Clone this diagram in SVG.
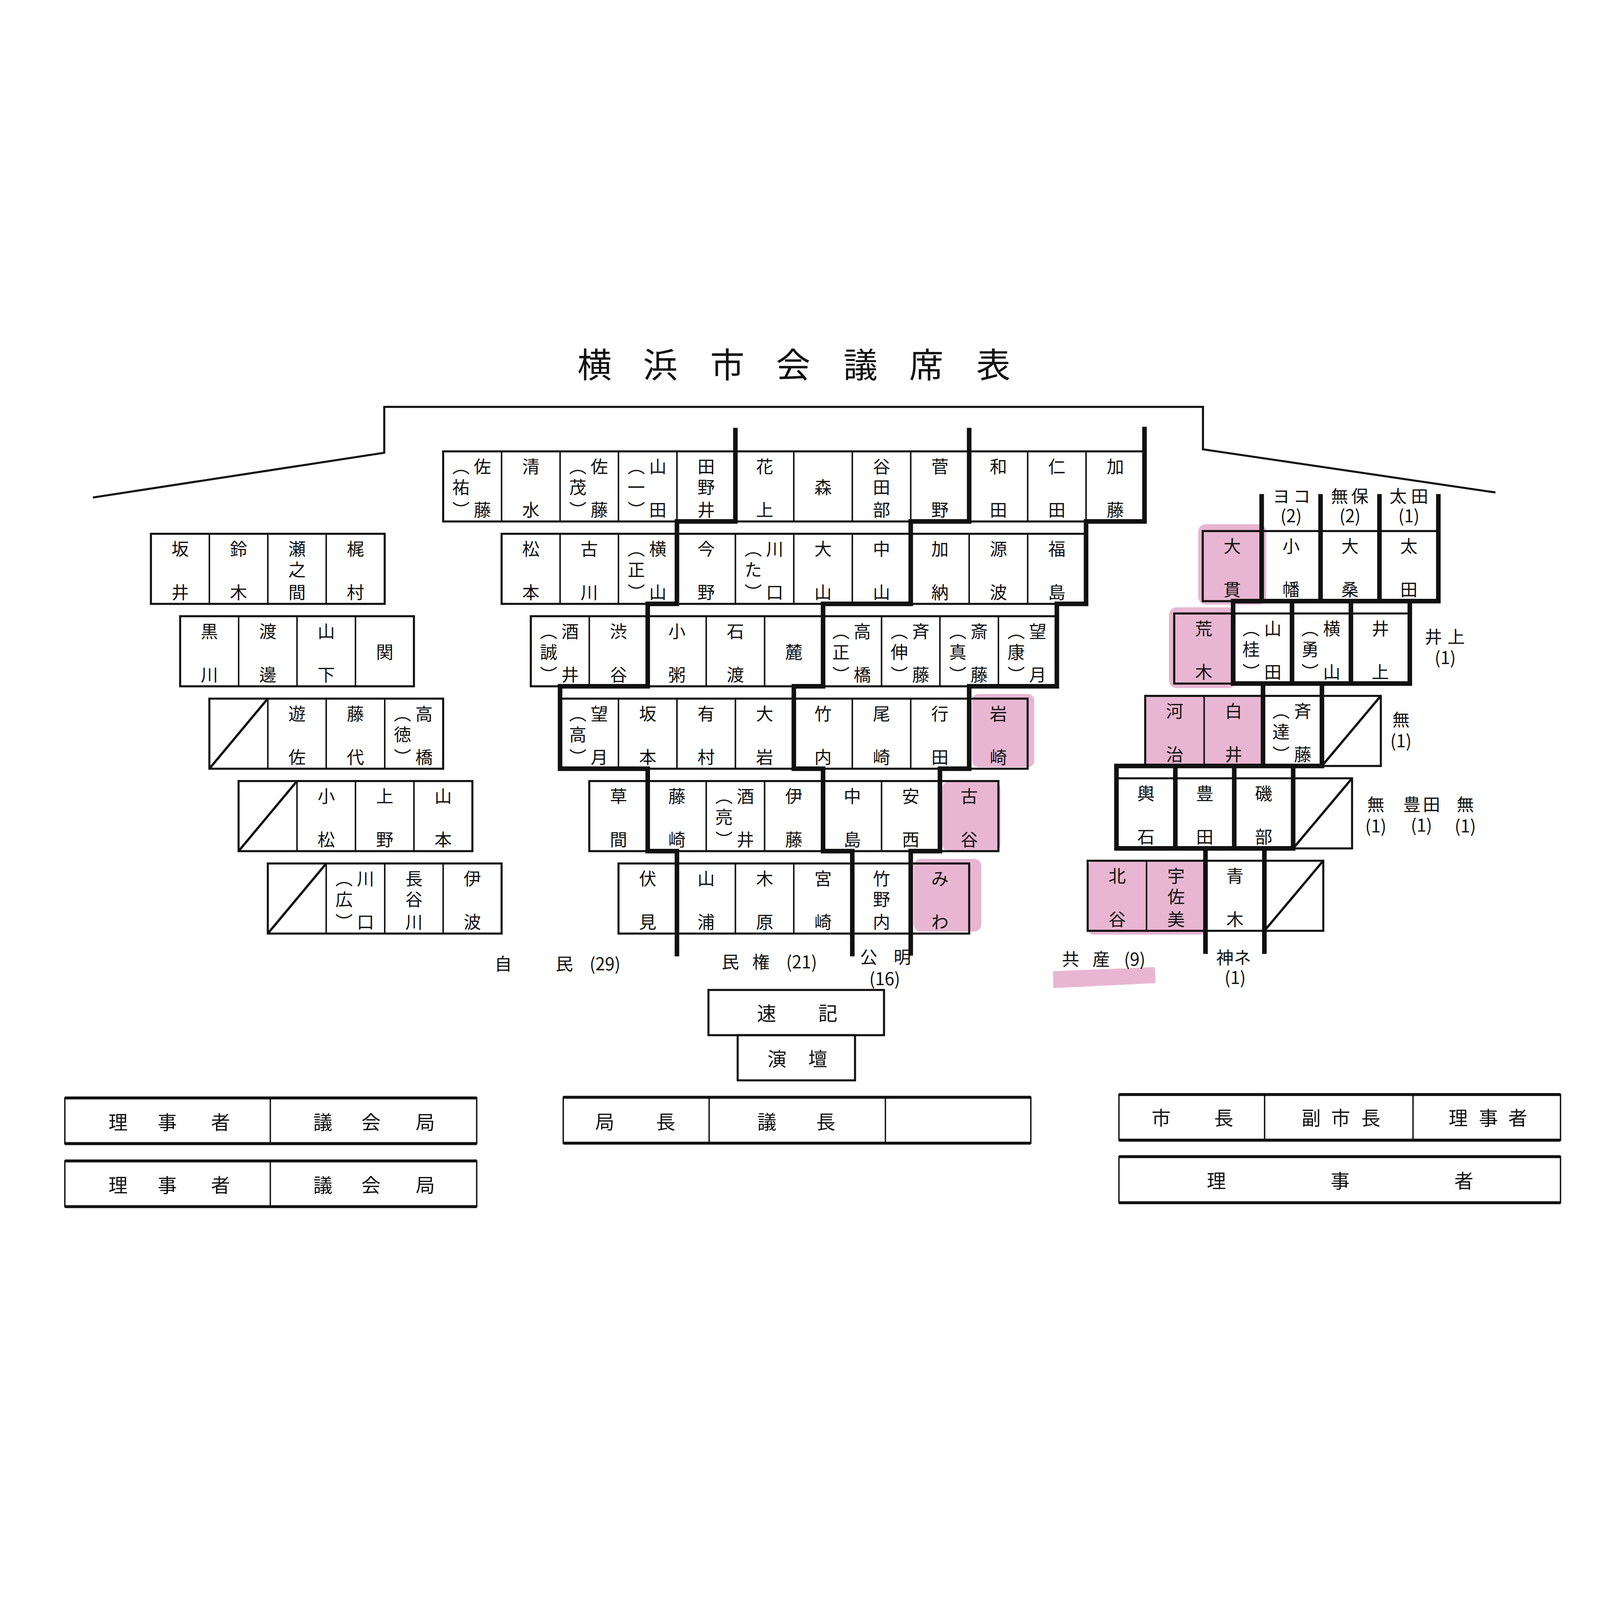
<svg xmlns="http://www.w3.org/2000/svg" width="7008" height="5100" viewBox="0 0 7008 5100">
<style>
svg{width:100vw;height:100vh}
.bg{fill:#ffffff}
.c{fill:none;stroke:#111;stroke-width:6}
.o{fill:none;stroke:#111;stroke-width:9}
.k{fill:none;stroke:#111;stroke-width:20;stroke-linecap:square;stroke-linejoin:miter}
.fr{fill:none;stroke:#111;stroke-width:9;stroke-linejoin:miter}
.sl{stroke:#111;stroke-width:10}
.p{fill:#E8B6D2}
.tb{stroke:#111;stroke-width:13}
.t{font-family:"Noto Sans CJK JP","Noto Sans CJK SC",sans-serif;font-size:76px;fill:#111;text-anchor:middle;dominant-baseline:central}
.bt{font-family:"Noto Sans CJK JP","Noto Sans CJK SC",sans-serif;font-size:84px;fill:#111;text-anchor:middle;dominant-baseline:central}
.ti{font-family:"Noto Sans CJK JP","Noto Sans CJK SC",sans-serif;font-size:150px;fill:#111;text-anchor:middle;dominant-baseline:central}
</style>
<rect class="bg" x="0" y="0" width="7008" height="5100"/>

<g id="title"><text class="ti" x="2604 2892 3186 3474 3769 4057 4351" y="633">横浜市会議席表</text></g>

<g id="frame"><polyline class="fr" points="407,1225 1683,1029 1683,828 5269,828 5269,1014 6550,1203"/></g>

<g id="highlights">
<rect class="p" x="4258" y="2086" width="272" height="320" rx="28"/>
<rect class="p" x="4128" y="2470" width="254" height="304" rx="28"/>
<rect class="p" x="4002" y="2808" width="296" height="318" rx="30"/>
<rect class="p" x="5248" y="1342" width="298" height="352" rx="34"/>
<rect class="p" x="5120" y="1706" width="294" height="354" rx="34"/>
<rect class="p" x="5018" y="2092" width="516" height="310" rx="24"/>
<rect class="p" x="4766" y="2818" width="512" height="322" rx="24"/>
<polygon class="p" points="4612,3300 5058,3282 5062,3352 4614,3374"/>
</g>

<g id="seats-center">
<g id="s0-0"><rect class="c" x="1941" y="1023" width="256" height="307"/><text class="t" x="2113 2113 2019 2019 2019" y="1085 1275 1085 1176 1275">佐藤︵祐︶</text></g>
<g id="s0-1"><rect class="c" x="2197" y="1023" width="256" height="307"/><text class="t" x="2325 2325" y="1085 1275">清水</text></g>
<g id="s0-2"><rect class="c" x="2453" y="1023" width="256" height="307"/><text class="t" x="2625 2625 2531 2531 2531" y="1085 1275 1085 1176 1275">佐藤︵茂︶</text></g>
<g id="s0-3"><rect class="c" x="2709" y="1023" width="256" height="307"/><text class="t" x="2881 2881 2787 2787 2787" y="1085 1275 1085 1176 1275">山田︵一︶</text></g>
<g id="s0-4"><rect class="c" x="2965" y="1023" width="256" height="307"/><text class="t" x="3093 3093 3093" y="1085 1176 1275">田野井</text></g>
<g id="s0-5"><rect class="c" x="3221" y="1023" width="256" height="307"/><text class="t" x="3349 3349" y="1085 1275">花上</text></g>
<g id="s0-6"><rect class="c" x="3477" y="1023" width="256" height="307"/><text class="t" x="3605" y="1176">森</text></g>
<g id="s0-7"><rect class="c" x="3733" y="1023" width="256" height="307"/><text class="t" x="3861 3861 3861" y="1085 1176 1275">谷田部</text></g>
<g id="s0-8"><rect class="c" x="3989" y="1023" width="256" height="307"/><text class="t" x="4117 4117" y="1085 1275">菅野</text></g>
<g id="s0-9"><rect class="c" x="4245" y="1023" width="256" height="307"/><text class="t" x="4373 4373" y="1085 1275">和田</text></g>
<g id="s0-10"><rect class="c" x="4501" y="1023" width="256" height="307"/><text class="t" x="4629 4629" y="1085 1275">仁田</text></g>
<g id="s0-11"><rect class="c" x="4757" y="1023" width="256" height="307"/><text class="t" x="4885 4885" y="1085 1275">加藤</text></g>

<g id="s1-0"><rect class="c" x="2197" y="1384" width="256" height="307"/><text class="t" x="2325 2325" y="1446 1636">松本</text></g>
<g id="s1-1"><rect class="c" x="2453" y="1384" width="256" height="307"/><text class="t" x="2581 2581" y="1446 1636">古川</text></g>
<g id="s1-2"><rect class="c" x="2709" y="1384" width="256" height="307"/><text class="t" x="2881 2881 2787 2787 2787" y="1446 1636 1446 1537 1636">横山︵正︶</text></g>
<g id="s1-3"><rect class="c" x="2965" y="1384" width="256" height="307"/><text class="t" x="3093 3093" y="1446 1636">今野</text></g>
<g id="s1-4"><rect class="c" x="3221" y="1384" width="256" height="307"/><text class="t" x="3393 3393 3299 3299 3299" y="1446 1636 1446 1537 1636">川口︵た︶</text></g>
<g id="s1-5"><rect class="c" x="3477" y="1384" width="256" height="307"/><text class="t" x="3605 3605" y="1446 1636">大山</text></g>
<g id="s1-6"><rect class="c" x="3733" y="1384" width="256" height="307"/><text class="t" x="3861 3861" y="1446 1636">中山</text></g>
<g id="s1-7"><rect class="c" x="3989" y="1384" width="256" height="307"/><text class="t" x="4117 4117" y="1446 1636">加納</text></g>
<g id="s1-8"><rect class="c" x="4245" y="1384" width="256" height="307"/><text class="t" x="4373 4373" y="1446 1636">源波</text></g>
<g id="s1-9"><rect class="c" x="4501" y="1384" width="256" height="307"/><text class="t" x="4629 4629" y="1446 1636">福島</text></g>

<g id="s2-0"><rect class="c" x="2325" y="1745" width="256" height="307"/><text class="t" x="2497 2497 2403 2403 2403" y="1807 1997 1807 1898 1997">酒井︵誠︶</text></g>
<g id="s2-1"><rect class="c" x="2581" y="1745" width="256" height="307"/><text class="t" x="2709 2709" y="1807 1997">渋谷</text></g>
<g id="s2-2"><rect class="c" x="2837" y="1745" width="256" height="307"/><text class="t" x="2965 2965" y="1807 1997">小粥</text></g>
<g id="s2-3"><rect class="c" x="3093" y="1745" width="256" height="307"/><text class="t" x="3221 3221" y="1807 1997">石渡</text></g>
<g id="s2-4"><rect class="c" x="3349" y="1745" width="256" height="307"/><text class="t" x="3477" y="1898">麓</text></g>
<g id="s2-5"><rect class="c" x="3605" y="1745" width="256" height="307"/><text class="t" x="3777 3777 3683 3683 3683" y="1807 1997 1807 1898 1997">高橋︵正︶</text></g>
<g id="s2-6"><rect class="c" x="3861" y="1745" width="256" height="307"/><text class="t" x="4033 4033 3939 3939 3939" y="1807 1997 1807 1898 1997">斉藤︵伸︶</text></g>
<g id="s2-7"><rect class="c" x="4117" y="1745" width="256" height="307"/><text class="t" x="4289 4289 4195 4195 4195" y="1807 1997 1807 1898 1997">斎藤︵真︶</text></g>
<g id="s2-8"><rect class="c" x="4373" y="1745" width="256" height="307"/><text class="t" x="4545 4545 4451 4451 4451" y="1807 1997 1807 1898 1997">望月︵康︶</text></g>

<g id="s3-0"><rect class="c" x="2453" y="2106" width="256" height="307"/><text class="t" x="2625 2625 2531 2531 2531" y="2168 2358 2168 2259 2358">望月︵高︶</text></g>
<g id="s3-1"><rect class="c" x="2709" y="2106" width="256" height="307"/><text class="t" x="2837 2837" y="2168 2358">坂本</text></g>
<g id="s3-2"><rect class="c" x="2965" y="2106" width="256" height="307"/><text class="t" x="3093 3093" y="2168 2358">有村</text></g>
<g id="s3-3"><rect class="c" x="3221" y="2106" width="256" height="307"/><text class="t" x="3349 3349" y="2168 2358">大岩</text></g>
<g id="s3-4"><rect class="c" x="3477" y="2106" width="256" height="307"/><text class="t" x="3605 3605" y="2168 2358">竹内</text></g>
<g id="s3-5"><rect class="c" x="3733" y="2106" width="256" height="307"/><text class="t" x="3861 3861" y="2168 2358">尾崎</text></g>
<g id="s3-6"><rect class="c" x="3989" y="2106" width="256" height="307"/><text class="t" x="4117 4117" y="2168 2358">行田</text></g>
<g id="s3-7"><rect class="c" x="4245" y="2106" width="256" height="307"/><text class="t" x="4373 4373" y="2168 2358">岩崎</text></g>

<g id="s4-0"><rect class="c" x="2581" y="2467" width="256" height="307"/><text class="t" x="2709 2709" y="2529 2719">草間</text></g>
<g id="s4-1"><rect class="c" x="2837" y="2467" width="256" height="307"/><text class="t" x="2965 2965" y="2529 2719">藤崎</text></g>
<g id="s4-2"><rect class="c" x="3093" y="2467" width="256" height="307"/><text class="t" x="3265 3265 3171 3171 3171" y="2529 2719 2529 2620 2719">酒井︵亮︶</text></g>
<g id="s4-3"><rect class="c" x="3349" y="2467" width="256" height="307"/><text class="t" x="3477 3477" y="2529 2719">伊藤</text></g>
<g id="s4-4"><rect class="c" x="3605" y="2467" width="256" height="307"/><text class="t" x="3733 3733" y="2529 2719">中島</text></g>
<g id="s4-5"><rect class="c" x="3861" y="2467" width="256" height="307"/><text class="t" x="3989 3989" y="2529 2719">安西</text></g>
<g id="s4-6"><rect class="c" x="4117" y="2467" width="256" height="307"/><text class="t" x="4245 4245" y="2529 2719">古谷</text></g>

<g id="s5-0"><rect class="c" x="2709" y="2828" width="256" height="307"/><text class="t" x="2837 2837" y="2890 3080">伏見</text></g>
<g id="s5-1"><rect class="c" x="2965" y="2828" width="256" height="307"/><text class="t" x="3093 3093" y="2890 3080">山浦</text></g>
<g id="s5-2"><rect class="c" x="3221" y="2828" width="256" height="307"/><text class="t" x="3349 3349" y="2890 3080">木原</text></g>
<g id="s5-3"><rect class="c" x="3477" y="2828" width="256" height="307"/><text class="t" x="3605 3605" y="2890 3080">宮崎</text></g>
<g id="s5-4"><rect class="c" x="3733" y="2828" width="256" height="307"/><text class="t" x="3861 3861 3861" y="2890 2981 3080">竹野内</text></g>
<g id="s5-5"><rect class="c" x="3989" y="2828" width="256" height="307"/><text class="t" x="4117 4117" y="2890 3080">みわ</text></g>
</g>

<g id="seats-left">
<g id="la-0"><rect class="c" x="661" y="1384" width="256" height="307"/><text class="t" x="789 789" y="1446 1636">坂井</text></g>
<g id="la-1"><rect class="c" x="917" y="1384" width="256" height="307"/><text class="t" x="1045 1045" y="1446 1636">鈴木</text></g>
<g id="la-2"><rect class="c" x="1173" y="1384" width="256" height="307"/><text class="t" x="1301 1301 1301" y="1446 1537 1636">瀬之間</text></g>
<g id="la-3"><rect class="c" x="1429" y="1384" width="256" height="307"/><text class="t" x="1557 1557" y="1446 1636">梶村</text></g>

<g id="lb-0"><rect class="c" x="789" y="1745" width="256" height="307"/><text class="t" x="917 917" y="1807 1997">黒川</text></g>
<g id="lb-1"><rect class="c" x="1045" y="1745" width="256" height="307"/><text class="t" x="1173 1173" y="1807 1997">渡邊</text></g>
<g id="lb-2"><rect class="c" x="1301" y="1745" width="256" height="307"/><text class="t" x="1429 1429" y="1807 1997">山下</text></g>
<g id="lb-3"><rect class="c" x="1557" y="1745" width="256" height="307"/><text class="t" x="1685" y="1898">関</text></g>

<g id="lc-0"><rect class="c" x="917" y="2106" width="256" height="307"/><line class="sl" x1="917" y1="2413" x2="1173" y2="2106"/></g>
<g id="lc-1"><rect class="c" x="1173" y="2106" width="256" height="307"/><text class="t" x="1301 1301" y="2168 2358">遊佐</text></g>
<g id="lc-2"><rect class="c" x="1429" y="2106" width="256" height="307"/><text class="t" x="1557 1557" y="2168 2358">藤代</text></g>
<g id="lc-3"><rect class="c" x="1685" y="2106" width="256" height="307"/><text class="t" x="1857 1857 1763 1763 1763" y="2168 2358 2168 2259 2358">高橋︵徳︶</text></g>

<g id="ld-0"><rect class="c" x="1045" y="2467" width="256" height="307"/><line class="sl" x1="1045" y1="2774" x2="1301" y2="2467"/></g>
<g id="ld-1"><rect class="c" x="1301" y="2467" width="256" height="307"/><text class="t" x="1429 1429" y="2529 2719">小松</text></g>
<g id="ld-2"><rect class="c" x="1557" y="2467" width="256" height="307"/><text class="t" x="1685 1685" y="2529 2719">上野</text></g>
<g id="ld-3"><rect class="c" x="1813" y="2467" width="256" height="307"/><text class="t" x="1941 1941" y="2529 2719">山本</text></g>

<g id="le-0"><rect class="c" x="1173" y="2828" width="256" height="307"/><line class="sl" x1="1173" y1="3135" x2="1429" y2="2828"/></g>
<g id="le-1"><rect class="c" x="1429" y="2828" width="256" height="307"/><text class="t" x="1601 1601 1507 1507 1507" y="2890 3080 2890 2981 3080">川口︵広︶</text></g>
<g id="le-2"><rect class="c" x="1685" y="2828" width="256" height="307"/><text class="t" x="1813 1813 1813" y="2890 2981 3080">長谷川</text></g>
<g id="le-3"><rect class="c" x="1941" y="2828" width="256" height="307"/><text class="t" x="2069 2069" y="2890 3080">伊波</text></g>
</g>

<g id="seats-right">
<g id="r1-0"><rect class="c" x="5268" y="1372" width="258" height="307"/><text class="t" x="5397 5397" y="1434 1624">大貫</text></g>
<g id="r1-1"><rect class="c" x="5526" y="1372" width="258" height="307"/><text class="t" x="5655 5655" y="1434 1624">小幡</text></g>
<g id="r1-2"><rect class="c" x="5784" y="1372" width="258" height="307"/><text class="t" x="5913 5913" y="1434 1624">大桑</text></g>
<g id="r1-3"><rect class="c" x="6042" y="1372" width="258" height="307"/><text class="t" x="6171 6171" y="1434 1624">太田</text></g>

<g id="r2-0"><rect class="c" x="5143" y="1733" width="258" height="307"/><text class="t" x="5272 5272" y="1795 1985">荒木</text></g>
<g id="r2-1"><rect class="c" x="5401" y="1733" width="258" height="307"/><text class="t" x="5575 5575 5480 5480 5480" y="1795 1985 1795 1886 1985">山田︵桂︶</text></g>
<g id="r2-2"><rect class="c" x="5659" y="1733" width="258" height="307"/><text class="t" x="5833 5833 5738 5738 5738" y="1795 1985 1795 1886 1985">横山︵勇︶</text></g>
<g id="r2-3"><rect class="c" x="5917" y="1733" width="258" height="307"/><text class="t" x="6046 6046" y="1795 1985">井上</text></g>

<g id="r3-0"><rect class="c" x="5016" y="2094" width="258" height="307"/><text class="t" x="5145 5145" y="2156 2346">河治</text></g>
<g id="r3-1"><rect class="c" x="5274" y="2094" width="258" height="307"/><text class="t" x="5403 5403" y="2156 2346">白井</text></g>
<g id="r3-2"><rect class="c" x="5532" y="2094" width="258" height="307"/><text class="t" x="5706 5706 5611 5611 5611" y="2156 2346 2156 2247 2346">斉藤︵達︶</text></g>
<g id="r3-3"><rect class="c" x="5790" y="2094" width="258" height="307"/><line class="sl" x1="5790" y1="2401" x2="6048" y2="2094"/></g>

<g id="r4-0"><rect class="c" x="4890" y="2455" width="258" height="307"/><text class="t" x="5019 5019" y="2517 2707">輿石</text></g>
<g id="r4-1"><rect class="c" x="5148" y="2455" width="258" height="307"/><text class="t" x="5277 5277" y="2517 2707">豊田</text></g>
<g id="r4-2"><rect class="c" x="5406" y="2455" width="258" height="307"/><text class="t" x="5535 5535" y="2517 2707">磯部</text></g>
<g id="r4-3"><rect class="c" x="5664" y="2455" width="258" height="307"/><line class="sl" x1="5664" y1="2762" x2="5922" y2="2455"/></g>

<g id="r5-0"><rect class="c" x="4764" y="2816" width="258" height="307"/><text class="t" x="4893 4893" y="2878 3068">北谷</text></g>
<g id="r5-1"><rect class="c" x="5022" y="2816" width="258" height="307"/><text class="t" x="5151 5151 5151" y="2878 2969 3068">宇佐美</text></g>
<g id="r5-2"><rect class="c" x="5280" y="2816" width="258" height="307"/><text class="t" x="5409 5409" y="2878 3068">青木</text></g>
<g id="r5-3"><rect class="c" x="5538" y="2816" width="258" height="307"/><line class="sl" x1="5538" y1="3123" x2="5796" y2="2816"/></g>
</g>

<g id="rows">
<rect class="o" x="1941" y="1023" width="3072" height="307"/>
<rect class="o" x="2197" y="1384" width="2560" height="307"/>
<rect class="o" x="2325" y="1745" width="2304" height="307"/>
<rect class="o" x="2453" y="2106" width="2048" height="307"/>
<rect class="o" x="2581" y="2467" width="1792" height="307"/>
<rect class="o" x="2709" y="2828" width="1536" height="307"/>
<rect class="o" x="661" y="1384" width="1024" height="307"/>
<rect class="o" x="789" y="1745" width="1024" height="307"/>
<rect class="o" x="917" y="2106" width="1024" height="307"/>
<rect class="o" x="1045" y="2467" width="1024" height="307"/>
<rect class="o" x="1173" y="2828" width="1024" height="307"/>
<rect class="o" x="5268" y="1372" width="1032" height="307"/>
<rect class="o" x="5143" y="1733" width="1032" height="307"/>
<rect class="o" x="5016" y="2094" width="1032" height="307"/>
<rect class="o" x="4890" y="2455" width="1032" height="307"/>
<rect class="o" x="4764" y="2816" width="1032" height="307"/>
</g>

<g id="connectors">
<path class="k" d="M3221 930 V1330 H2965 V1691 H2837 V2052 H2453 V2413 H2837 V2774 H2965 V3225"/>
<path class="k" d="M4245 930 V1330 H3989 V1691 H3605 V2052 H3477 V2413 H3605 V2774 H3733 V3225"/>
<path class="k" d="M5013 925 V1330 H4757 V1691 H4629 V2052 H4245 V2413 H4117 V2774 H3989 V3222"/>
<path class="k" d="M5526 1220 V1679 M5784 1220 V1679 M6042 1220 V1679 M6300 1220 V1679 M5401 1679 H6300 M5401 1679 V2040 H6175 V1679 M5659 1679 V2040 M5917 1679 V2040 M5532 2040 V2401 M5790 2040 V2401 M4890 2401 H5790 M4890 2401 V2762 H5664 V2401 M5148 2401 V2762 M5406 2401 V2762 M5280 2762 V3214 M5538 2762 V3214"/>
</g>

<g id="labels">
<text class="t" x="2204 2472 2650" y="3262">自民(29)</text>
<text class="t" x="3199 3333 3511" y="3254">民権(21)</text>
<text class="t" x="3805 3952 3875" y="3233 3233 3328">公明(16)</text>
<text class="t" x="4689 4823 4970" y="3242">共産(9)</text>
<text class="t" x="5365 5442 5410" y="3235 3235 3323">神ネ(1)</text>
<text class="t" x="5612 5702 5655" y="1215 1215 1300">ヨコ(2)</text>
<text class="t" x="5867 5956 5913" y="1215 1215 1300">無保(2)</text>
<text class="t" x="6124 6218 6171" y="1215 1215 1300">太田(1)</text>
<text class="t" x="6278 6378 6330" y="1830 1830 1921">井上(1)</text>
<text class="t" x="6136 6136" y="2194 2285">無(1)</text>
<text class="t" x="6026 6026" y="2564 2659">無(1)</text>
<text class="t" x="6184 6270 6226" y="2564 2564 2655">豊田(1)</text>
<text class="t" x="6418 6418" y="2564 2659">無(1)</text>
</g>

<g id="sokki"><rect class="o" x="3103" y="3382" width="769" height="198"/><text class="bt" x="3358 3626" y="3478">速記</text></g>
<g id="endan"><rect class="o" x="3231" y="3580" width="514" height="198"/><text class="bt" x="3403 3582" y="3678">演壇</text></g>

<g id="table-l1">
<rect class="c" x="284" y="3855" width="1804" height="200"/>
<line class="tb" x1="284" y1="3855" x2="2088" y2="3855"/><line class="tb" x1="284" y1="4055" x2="2088" y2="4055"/>
<line class="c" x1="1184" y1="3855" x2="1184" y2="4055"/>
<text class="bt" x="517 733 966" y="3955">理事者</text>
<text class="bt" x="1414 1625 1863" y="3955">議会局</text>
</g>
<g id="table-l2">
<rect class="c" x="284" y="4131" width="1804" height="200"/>
<line class="tb" x1="284" y1="4131" x2="2088" y2="4131"/><line class="tb" x1="284" y1="4331" x2="2088" y2="4331"/>
<line class="c" x1="1184" y1="4131" x2="1184" y2="4331"/>
<text class="bt" x="517 733 966" y="4231">理事者</text>
<text class="bt" x="1414 1625 1863" y="4231">議会局</text>
</g>
<g id="table-c">
<rect class="c" x="2467" y="3852" width="2048" height="201"/>
<line class="tb" x1="2467" y1="3852" x2="4515" y2="3852"/><line class="tb" x1="2467" y1="4053" x2="4515" y2="4053"/>
<line class="c" x1="3106" y1="3852" x2="3106" y2="4053"/><line class="c" x1="3878" y1="3852" x2="3878" y2="4053"/>
<text class="bt" x="2649 2916" y="3953">局長</text>
<text class="bt" x="3359 3617" y="3953">議長</text>
</g>
<g id="table-r1">
<rect class="c" x="4901" y="3840" width="1934" height="200"/>
<line class="tb" x1="4901" y1="3840" x2="6835" y2="3840"/><line class="tb" x1="4901" y1="4040" x2="6835" y2="4040"/>
<line class="c" x1="5539" y1="3840" x2="5539" y2="4040"/><line class="c" x1="6189" y1="3840" x2="6189" y2="4040"/>
<text class="bt" x="5086 5360" y="3937">市長</text>
<text class="bt" x="5743 5872 6004" y="3937">副市長</text>
<text class="bt" x="6387 6519 6648" y="3937">理事者</text>
</g>
<g id="table-r2">
<rect class="c" x="4901" y="4112" width="1934" height="202"/>
<line class="tb" x1="4901" y1="4112" x2="6835" y2="4112"/><line class="tb" x1="4901" y1="4314" x2="6835" y2="4314"/>
<text class="bt" x="5328 5870 6412" y="4213">理事者</text>
</g>
</svg>
